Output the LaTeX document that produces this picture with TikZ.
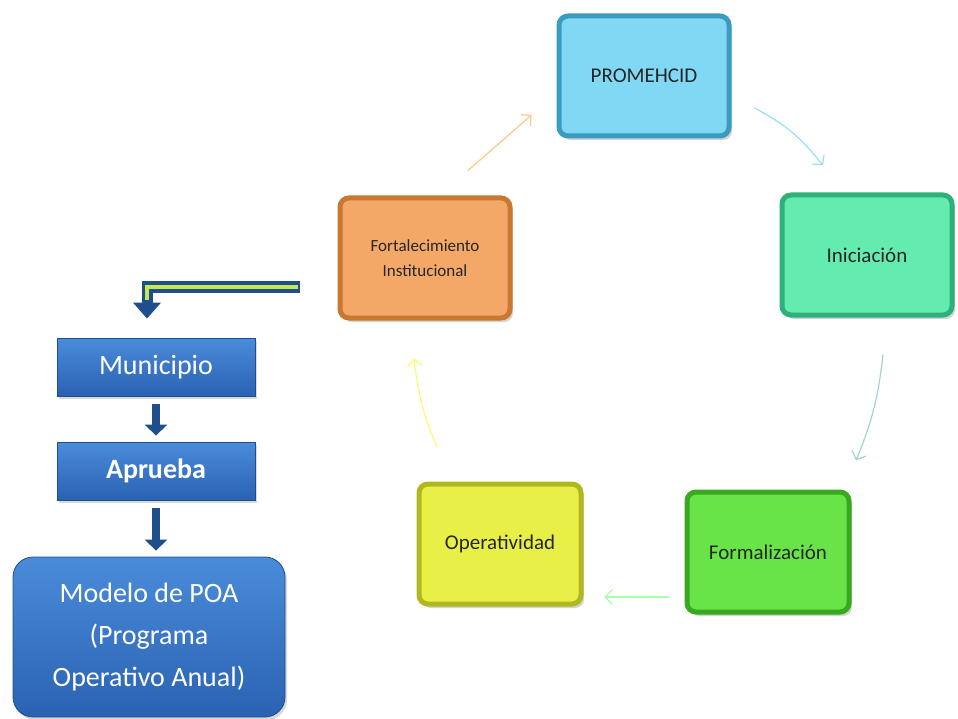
\documentclass[tikz,border=0pt]{standalone}
\usepackage{fontspec}
\setmainfont{Carlito}
\usetikzlibrary{positioning, arrows.meta, calc, shadows}
\definecolor{promfill}{HTML}{80D8F4}
\definecolor{promedge}{HTML}{3A9CC0}
\definecolor{inifill}{HTML}{64ECB0}
\definecolor{iniedge}{HTML}{2EB07A}
\definecolor{fortfill}{HTML}{F4A868}
\definecolor{fortedge}{HTML}{C87830}
\definecolor{operfill}{HTML}{E8F048}
\definecolor{operedge}{HTML}{B0B820}
\definecolor{formfill}{HTML}{68E448}
\definecolor{formedge}{HTML}{38A820}
\definecolor{blutop}{HTML}{4A8CDA}
\definecolor{blubot}{HTML}{2A62B2}
\definecolor{bluedge}{HTML}{1F4E8C}
\definecolor{bendin}{HTML}{C8E850}
\tikzset{
  cyc/.style  = {draw, rounded corners=9pt, line width=5pt, align=center,
                 minimum width=170pt, minimum height=120pt, text=black!85,
                 font=\fontsize{21}{26}\selectfont,
                 drop shadow={shadow xshift=3pt, shadow yshift=-4pt, opacity=0.35}},
  blu/.style  = {draw=bluedge, line width=0.8pt, top color=blutop, bottom color=blubot,
                 text=white, align=center, minimum width=198pt, minimum height=58pt,
                 font=\fontsize{28}{42}\selectfont,
                 drop shadow={shadow xshift=2pt, shadow yshift=-3pt, opacity=0.3}},
  dn/.style   = {-{Triangle[length=11pt,width=22pt]}, line width=8pt, bluedge,
                 shorten <=8pt, shorten >=6pt},
  cy/.style   = {-{Straight Barb[length=7pt,width=15pt]}, line width=1.2pt},
}

\begin{document}
\begin{tikzpicture}[x=1pt, y=-1pt]
    \useasboundingbox (0,0) rectangle (958,719);
    % cycle
    \node[cyc, draw=promedge, fill=promfill] (prom) at (644,76) {PROMEHCID};
    \node[cyc, draw=iniedge, fill=inifill] (ini) at (867,255) {Iniciación};
    \node[cyc, draw=formedge, fill=formfill, minimum width=162pt] (form) at (768,552) {Formalización};
    \node[cyc, draw=operedge, fill=operfill, minimum width=162pt] (oper) at (500,544) {Operatividad};
    \node[cyc, draw=fortedge, fill=fortfill, font=\fontsize{17}{25}\selectfont] (fort) at (425,258)
        {Fortalecimiento\\Institucional};
    \draw[cy, orange!45] ($(fort.north)+(43,-25)$) -- ($(prom.west)+(-25,39)$);
    \draw[cy, cyan!40] ($(prom.east)+(23,32)$) to[bend left=12] ($(ini.north)+(-44,-27)$);
    \draw[cy, teal!35] ($(ini.south)+(16,37)$) to[bend left=8] ($(form.north)+(88,-29)$);
    \draw[cy, green!35] ($(form.west)+(-16,45)$) -- ($(oper.east)+(21,53)$);
    \draw[cy, yellow!55] ($(oper.north)+(-63,-34)$) to[bend left=8] ($(fort.south)+(-11,38)$);
    % left column
    \node[blu] (muni) at (156,367) {Municipio};
    \node[blu, font=\fontsize{28}{42}\selectfont\bfseries] (apr) at (156,471) {Aprueba};
    \node[blu, rounded corners=20pt, minimum width=272pt, minimum height=160pt] (poa) at (149,637)
        {Modelo de POA\\(Programa\\Operativo Anual)};
    \draw[dn] (muni) -- (apr);
    \draw[dn] (apr.south) -- (apr.south |- poa.north);
    \coordinate (bendstart) at ($(fort.west)+(-38,29)$);
    \draw[line width=11pt, bluedge, -{Triangle[length=16pt,width=27pt]}, shorten >=19pt]
        (bendstart) -| ([xshift=-9pt]muni.north);
    \draw[line width=3.5pt, bendin, shorten >=38pt, shorten <=1.5pt]
        (bendstart) -| ([xshift=-9pt]muni.north);
\end{tikzpicture}
\end{document}
